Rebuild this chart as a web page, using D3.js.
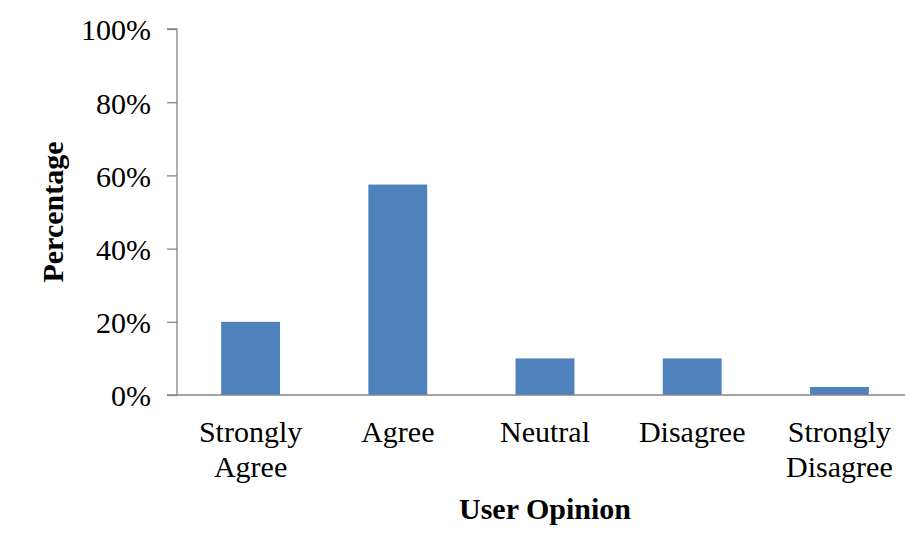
<!DOCTYPE html>
<html>
<head>
<meta charset="utf-8">
<script src="https://cdn.jsdelivr.net/npm/d3@7"></script>
<style>
  body { margin: 0; background: #fff; }
  svg text { font-family: "Liberation Serif", "Times New Roman", serif; fill: #000; }
</style>
</head>
<body>
<div id="chart"></div>
<script>
// Data
const categories = ["Strongly Agree", "Agree", "Neutral", "Disagree", "Strongly Disagree"];
const labelLines = [["Strongly", "Agree"], ["Agree"], ["Neutral"], ["Disagree"], ["Strongly", "Disagree"]];
const values = [0.20, 0.575, 0.10, 0.10, 0.022];
const yTicks = [0, 0.2, 0.4, 0.6, 0.8, 1.0];

const W = 905, H = 534;
const svg = d3.select("#chart")
  .append("svg")
  .attr("width", W)
  .attr("height", H);

const margin = { top: 29, left: 177, bottom: 139, right: -8 };

const xScale = d3.scaleBand()
  .domain(categories)
  .range([margin.left, W - margin.right])
  .paddingInner(0.6)
  .paddingOuter(0.3);

const yScale = d3.scaleLinear()
  .domain([0, 1])
  .range([H - margin.bottom, margin.top]);

// bars
svg.selectAll("rect.bar")
  .data(values)
  .enter()
  .append("rect")
  .attr("class", "bar")
  .attr("x", (d, i) => xScale(categories[i]))
  .attr("width", xScale.bandwidth())
  .attr("y", d => yScale(d))
  .attr("height", d => yScale(0) - yScale(d))
  .attr("fill", "#4F81BD");

// y axis
const yAxis = svg.append("g")
  .attr("transform", `translate(${margin.left},0)`)
  .call(d3.axisLeft(yScale).tickValues(yTicks).tickFormat(d3.format(".0%")).tickSize(10).tickPadding(16));
yAxis.select(".domain").attr("stroke", "#868686").attr("stroke-width", 1.3).attr("d", `M-10,${yScale(1)}H0V${yScale(0)}H-10`);
yAxis.selectAll(".tick line").attr("stroke", "#868686").attr("stroke-width", 1.3);
yAxis.selectAll(".tick text")
  .style("font-family", "'Liberation Serif', serif")
  .style("font-size", "30px")
  .attr("fill", "#000")
  .attr("dy", "0.36em");

// x axis
const xAxis = svg.append("g")
  .attr("transform", `translate(0,${yScale(0)})`)
  .call(d3.axisBottom(xScale).tickSize(0).tickFormat(""));
xAxis.select(".domain").attr("stroke", "#868686").attr("stroke-width", 1.3)
  .attr("d", `M${margin.left},0H${W}`);

xAxis.selectAll(".tick").each(function(d, i) {
  const t = d3.select(this).select("text")
    .attr("y", 0)
    .attr("dy", null)
    .style("font-family", "'Liberation Serif', serif")
    .style("font-size", "30px")
    .attr("fill", "#000");
  t.selectAll("tspan")
    .data(labelLines[i])
    .enter()
    .append("tspan")
    .attr("x", 0)
    .attr("y", (l, j) => 47 + j * 35)
    .text(l => l);
});

// axis titles
svg.append("text")
  .attr("x", 545)
  .attr("y", 519)
  .attr("text-anchor", "middle")
  .style("font-size", "30px")
  .style("font-weight", "bold")
  .text("User Opinion");

svg.append("text")
  .attr("transform", "translate(63,212) rotate(-90)")
  .attr("text-anchor", "middle")
  .style("font-size", "30px")
  .style("font-weight", "bold")
  .text("Percentage");
</script>
</body>
</html>
